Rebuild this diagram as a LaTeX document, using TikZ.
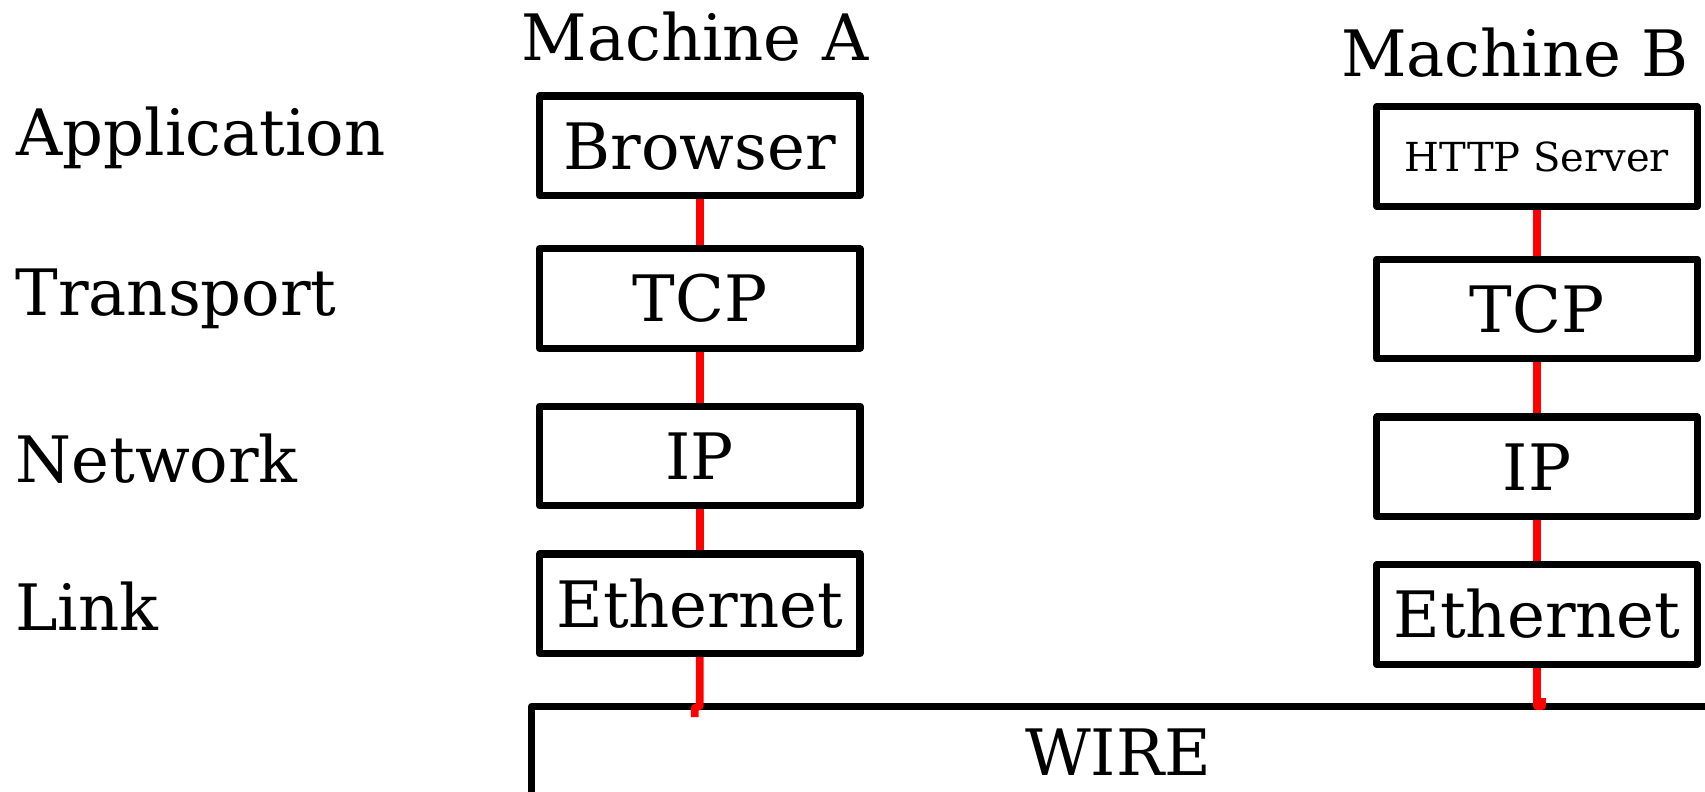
\documentclass[tikz,border=0pt]{standalone}
\usepackage{fontspec}
\setmainfont{DejaVu Serif}
\newcommand\lblfont{\fontsize{32pt}{38pt}\selectfont}
\newcommand\smallboxfont{\fontsize{20pt}{24pt}\selectfont}
\begin{document}
\begin{tikzpicture}[x=0.5pt,y=-0.5pt,
  layerbox/.style={draw=black, line width=3.6pt, line join=round, fill=white,
    minimum width=160.25pt, minimum height=49.75pt, inner sep=0pt,
    font=\lblfont, text height=23.3pt, text depth=0pt},
  smallbox/.style={layerbox, font=\smallboxfont, text height=14.6pt},
  wirebox/.style={draw=black, line width=3.6pt, line join=round,
    minimum width=588.5pt, minimum height=100pt, inner sep=0pt},
  lbl/.style={font=\lblfont, inner sep=0pt},
  redline/.style={draw=red, line width=3.8pt},
  redkink/.style={redline, line join=round}]
\clip (0,0) rectangle (1705,792);
\fill[white] (0,0) rectangle (1705,792);

% layer labels
\node[lbl, anchor=base west] (lapp) at (16,156) {Application};
\node[lbl, anchor=base west] (ltra) at (15,315) {Transport};
\node[lbl, anchor=base west] (lnet) at (15,482) {Network};
\node[lbl, anchor=base west] (llink) at (15,630) {Link};

% machine titles
\node[lbl, anchor=base] (ma) at (695,61) {Machine A};
\node[lbl, anchor=base] (mb) at (1515,77) {Machine B};

% Machine A stack
\node[layerbox] (browser) at (699.75,145.75) {Browser};
\node[layerbox] (tcpA) at (699.75,298.5) {TCP};
\node[layerbox] (ipA) at (699.75,456) {IP};
\node[layerbox] (ethA) at (699.75,603.75) {Ethernet};

% Machine B stack
\node[smallbox] (http) at (1537,156.5) {HTTP Server};
\node[layerbox] (tcpB) at (1537,309) {TCP};
\node[layerbox] (ipB) at (1537,466.75) {IP};
\node[layerbox] (ethB) at (1537,614.5) {Ethernet};

% wire
\node[wirebox] (wire) at (1120,806.5) {};
\node[lbl, anchor=base] (wirelabel) at (1118,775) {WIRE};

\coordinate (wA) at (699.75,706);
\coordinate (wB) at (1537,706);

% connectors
\draw[redline] (browser.south) -- (tcpA.north);
\draw[redline] (tcpA.south) -- (ipA.north);
\draw[redline] (ipA.south) -- (ethA.north);
\draw[redline] (http.south) -- (tcpB.north);
\draw[redline] (tcpB.south) -- (ipB.north);
\draw[redline] (ipB.south) -- (ethB.north);
\draw[redkink] (ethA.south) -- (wA) -- ++(-5,2) -- ++(0,9);
\draw[redkink] (ethB.south) -- (wB) -- ++(5,0) -- ++(0,-8);
\end{tikzpicture}
\end{document}
